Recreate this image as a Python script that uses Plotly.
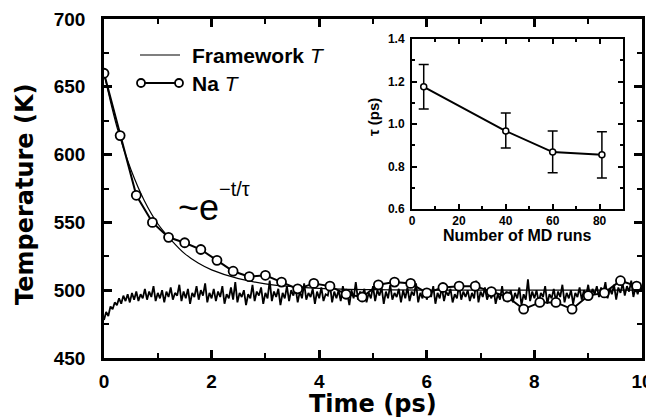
import plotly.graph_objects as go

# ---------------- data ----------------
# Framework temperature (noisy trace), sampled every 0.04 ps
fw_dt = 0.04
fw_T = [
    478, 484, 481, 488, 486, 491, 489, 494, 490, 496,
    492, 497, 491, 498, 493, 499, 492, 497, 494, 501,
    493, 499, 495, 503, 492, 498, 494, 500, 491, 499,
    495, 502, 493, 498, 496, 504, 492, 499, 494, 501,
    490, 498, 495, 503, 493, 500, 496, 505, 491, 498,
    494, 501, 492, 499, 495, 503, 490, 497, 494, 502,
    493, 506, 491, 498, 495, 500, 489, 497, 494, 504,
    492, 499, 496, 502, 490, 498, 494, 507, 492, 499,
    495, 501, 489, 498, 494, 503, 492, 500, 496, 502,
    491, 499, 494, 505, 493, 498, 495, 501, 490, 499,
    494, 502, 492, 497, 496, 504, 491, 499, 494, 500,
    492, 503, 495, 498, 489, 500, 494, 506, 493, 499,
    495, 501, 491, 498, 494, 503, 492, 500, 496, 502,
    490, 499, 494, 504, 493, 498, 495, 501, 491, 500,
    494, 502, 492, 499, 496, 505, 491, 498, 494, 501,
    493, 500, 495, 503, 490, 498, 494, 502, 492, 499,
    496, 501, 491, 497, 494, 504, 493, 499, 495, 500,
    492, 498, 494, 507, 491, 499, 495, 502, 493, 498,
    494, 501, 490, 497, 493, 503, 492, 499, 495, 500,
    491, 498, 494, 502, 489, 497, 493, 508, 492, 499,
    494, 500, 491, 498, 495, 503, 490, 497, 494, 501,
    492, 499, 495, 504, 491, 498, 494, 500, 490, 498,
    495, 502, 493, 500, 496, 504, 494, 501, 497, 503,
    495, 502, 498, 506, 494, 501, 497, 504, 493, 502,
    498, 505, 496, 503, 499, 507, 495, 502, 497, 504,
    500,
]
fw_t = [round(i * fw_dt, 2) for i in range(len(fw_T))]

# Na temperature (circles), every 0.3 ps
na_t = [0.0, 0.3, 0.6, 0.9, 1.2, 1.5, 1.8, 2.1, 2.4, 2.7, 3.0, 3.3,
        3.6, 3.9, 4.2, 4.5, 4.8, 5.1, 5.4, 5.7, 6.0, 6.3, 6.6, 6.9,
        7.2, 7.5, 7.8, 8.1, 8.4, 8.7, 9.0, 9.3, 9.6, 9.9]
na_T = [660, 614, 570, 550, 539, 535, 530, 522, 514, 510, 511, 506,
        501, 505, 503, 497, 495, 504, 506, 505, 498, 502, 503, 503,
        499, 495, 486, 491, 491, 486, 496, 498, 507, 503]

# exponential fit curve
fit_t = [0.0, 0.25, 0.5, 0.75, 1.0, 1.25, 1.5, 1.75, 2.0, 2.5, 3.0,
         3.5, 4.0, 5.0, 6.0, 8.0, 10.0]
fit_T = [660, 619, 589, 566, 549, 537, 527, 520, 515, 508.5, 504.7,
         502.6, 501.4, 500.4, 500.1, 500, 500]

# inset: tau vs number of MD runs
runs = [5, 40, 60, 81]
tau = [1.175, 0.967, 0.868, 0.855]
tau_err_plus = [0.105, 0.085, 0.099, 0.108]
tau_err_minus = [0.105, 0.080, 0.098, 0.109]

legend_labels = ["<b>Framework</b> <i>T</i>", "<b>Na</b> <i>T</i>"]

# ---------------- figure ----------------
fig = go.Figure()

fig.add_trace(go.Scatter(x=fw_t, y=fw_T, mode="lines",
                         line=dict(color="black", width=1.8),
                         showlegend=False, xaxis="x", yaxis="y"))
fig.add_trace(go.Scatter(x=fit_t, y=fit_T, mode="lines",
                         line=dict(color="black", width=1.2, shape="spline"),
                         showlegend=False, xaxis="x", yaxis="y"))
fig.add_trace(go.Scatter(x=na_t, y=na_T, mode="lines+markers",
                         line=dict(color="black", width=2),
                         marker=dict(symbol="circle", size=9, color="white",
                                     line=dict(color="black", width=1.8)),
                         showlegend=False, xaxis="x", yaxis="y"))

fig.add_trace(go.Scatter(x=runs, y=tau, mode="lines+markers",
                         line=dict(color="black", width=2),
                         marker=dict(symbol="circle", size=6, color="white",
                                     line=dict(color="black", width=1.5)),
                         error_y=dict(type="data", symmetric=False,
                                      array=tau_err_plus, arrayminus=tau_err_minus,
                                      color="black", thickness=1.5, width=5),
                         showlegend=False, xaxis="x2", yaxis="y2"))

# page geometry (the page body has an 8px margin)
OFF = 8
W, H = 654 - OFF, 420 - OFF
PL, PR, PT, PB = 104, 642, 19, 358   # plot area in page pixels
L, T = PL - OFF, PT - OFF
R = W - (PR - OFF)
B = H - (PB - OFF)
pw = PR - PL
ph = PB - PT


def px(xp):
    return (xp - PL) / pw


def py(yp):
    return (PB - yp) / ph


tickfont_main = dict(family="Liberation Sans, Arial", size=19, color="black", weight="bold")
tickfont_inset = dict(family="Liberation Sans, Arial", size=12, color="black", weight="bold")

fig.update_layout(
    width=W, height=H,
    margin=dict(l=L, r=R, t=T, b=B),
    paper_bgcolor="white", plot_bgcolor="white",
    xaxis=dict(range=[0, 10], dtick=2, tick0=0, showgrid=False, zeroline=False,
               showline=True, linecolor="black", linewidth=2.5, mirror="ticks",
               ticks="inside", ticklen=8, tickwidth=2.5, tickcolor="black",
               minor=dict(dtick=1, ticks="inside", ticklen=5, tickwidth=2, tickcolor="black"),
               tickfont=tickfont_main, ticklabelstandoff=4, automargin=False),
    yaxis=dict(range=[450, 700], dtick=50, tick0=450, showgrid=False, zeroline=False,
               showline=True, linecolor="black", linewidth=2.5, mirror="ticks",
               ticks="inside", ticklen=8, tickwidth=2.5, tickcolor="black",
               minor=dict(dtick=25, ticks="inside", ticklen=5, tickwidth=2, tickcolor="black"),
               tickfont=tickfont_main, ticklabelstandoff=12, automargin=False),
    xaxis2=dict(domain=[px(412), px(623)], anchor="y2", range=[0, 90], dtick=20, tick0=0,
                showgrid=False, zeroline=False, showline=True, linecolor="black",
                linewidth=2, mirror="ticks", ticks="inside", ticklen=5, tickwidth=1.8,
                tickcolor="black",
                minor=dict(dtick=10, ticks="inside", ticklen=3, tickwidth=1.5, tickcolor="black"),
                tickfont=tickfont_inset, ticklabelstandoff=0, automargin=False),
    yaxis2=dict(domain=[py(209), py(39)], anchor="x2", range=[0.6, 1.4], dtick=0.2,
                tick0=0.6, tickformat=".1f", showgrid=False, zeroline=False,
                showline=True, linecolor="black", linewidth=2, mirror="ticks",
                ticks="inside", ticklen=5, tickwidth=1.8, tickcolor="black",
                minor=dict(dtick=0.1, ticks="inside", ticklen=3, tickwidth=1.5, tickcolor="black"),
                tickfont=tickfont_inset, ticklabelstandoff=3, automargin=False),
    showlegend=False,
)

annotations = [
    dict(text="<b>Time (ps)</b>", x=0.5, y=py(404), xref="paper", yref="paper",
         xanchor="center", yanchor="middle", showarrow=False,
         font=dict(family="DejaVu Sans", size=24, color="black")),
    dict(text="<b>Temperature (K)</b>", x=px(25), y=py(194), xref="paper", yref="paper",
         xanchor="center", yanchor="middle", showarrow=False, textangle=-90,
         font=dict(family="DejaVu Sans", size=24, color="black")),
    dict(text="<b>Number of MD runs</b>", x=px(517), y=py(235), xref="paper", yref="paper",
         xanchor="center", yanchor="middle", showarrow=False,
         font=dict(family="Liberation Sans, Arial", size=16, color="black")),
    dict(text="τ (ps)", x=px(374), y=py(117), xref="paper", yref="paper",
         xanchor="center", yanchor="middle", showarrow=False, textangle=-90,
         font=dict(family="Liberation Sans, Arial", size=15, color="black", weight="bold")),
    dict(text="~e", x=px(176), y=py(207), xref="paper", yref="paper",
         xanchor="left", yanchor="middle", showarrow=False,
         font=dict(family="Liberation Sans, Arial", size=36, color="black")),
    dict(text="−t/τ", x=px(217), y=py(189), xref="paper", yref="paper",
         xanchor="left", yanchor="middle", showarrow=False,
         font=dict(family="Liberation Sans, Arial", size=20, color="black")),
    dict(text=legend_labels[0], x=px(190), y=py(55), xref="paper", yref="paper",
         xanchor="left", yanchor="middle", showarrow=False,
         font=dict(family="Liberation Sans, Arial", size=21, color="black")),
    dict(text=legend_labels[1], x=px(190), y=py(83), xref="paper", yref="paper",
         xanchor="left", yanchor="middle", showarrow=False,
         font=dict(family="Liberation Sans, Arial", size=21, color="black")),
]
fig.update_layout(annotations=annotations)

# legend samples (drawn as shapes)
shapes = [
    dict(type="line", xref="paper", yref="paper", x0=px(140), x1=px(180),
         y0=py(55), y1=py(55), line=dict(color="black", width=1.2)),
    dict(type="line", xref="paper", yref="paper", x0=px(141), x1=px(179),
         y0=py(83), y1=py(83), line=dict(color="black", width=2)),
]
for cx in (141, 179):
    shapes.append(dict(type="circle", xref="paper", yref="paper",
                       xsizemode="pixel", ysizemode="pixel",
                       xanchor=px(cx), yanchor=py(83), x0=-4, x1=4, y0=-4, y1=4,
                       fillcolor="white", line=dict(color="black", width=1.8)))
fig.update_layout(shapes=shapes)

fig.write_html("out.html")
